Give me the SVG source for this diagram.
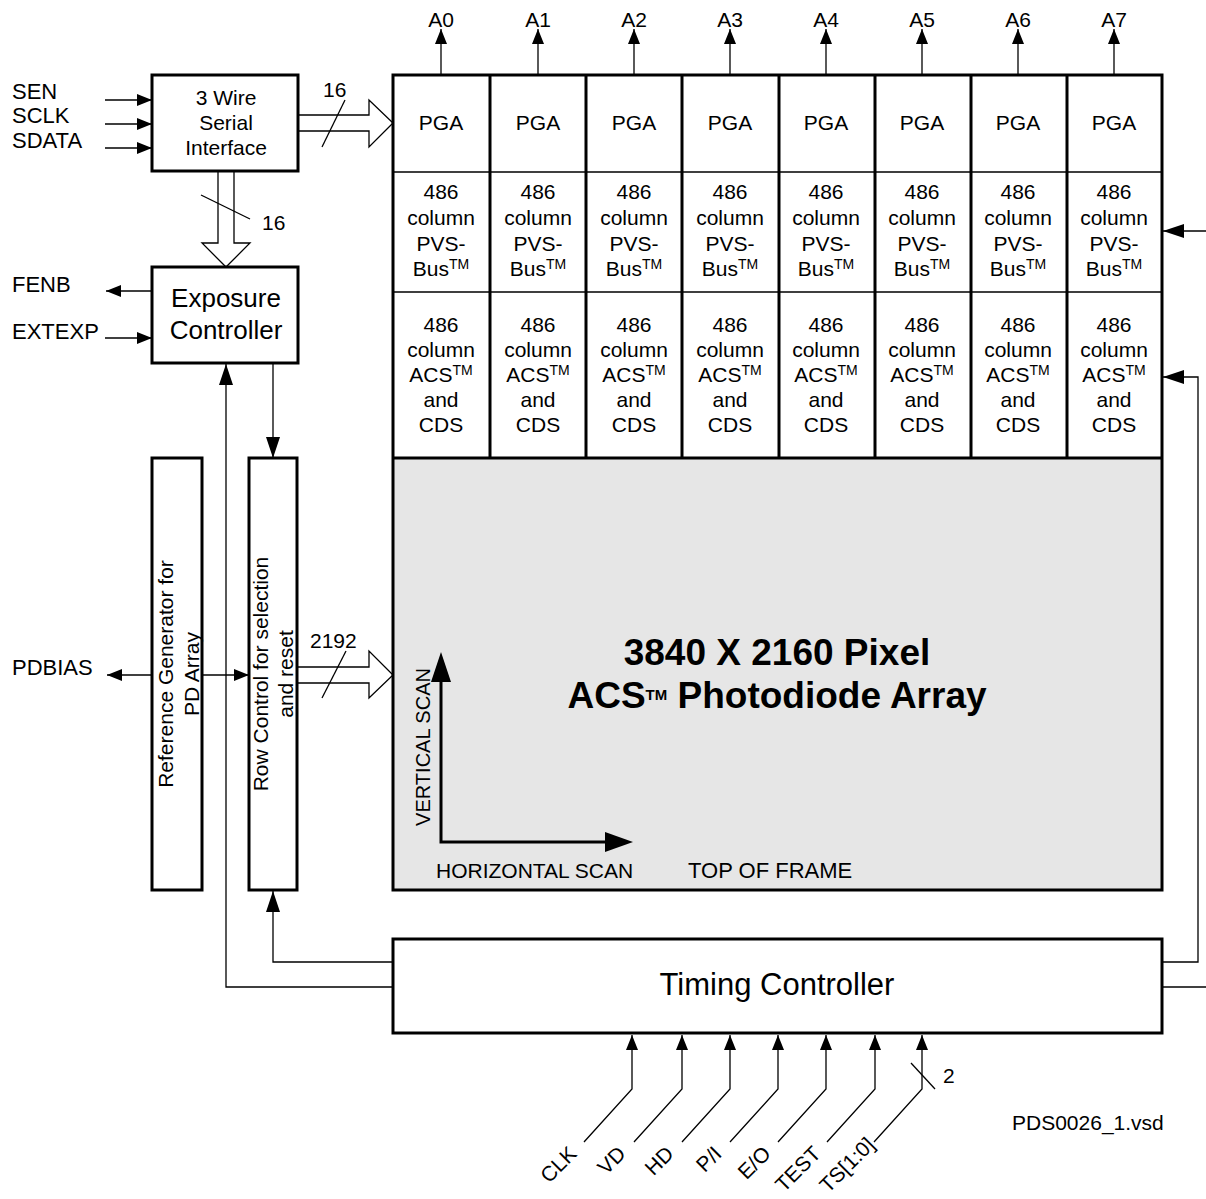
<svg xmlns="http://www.w3.org/2000/svg" width="1206" height="1199" viewBox="0 0 1206 1199">
<style>
text{font-family:"Liberation Sans",Arial,sans-serif;fill:#000}
.box{fill:#fff;stroke:#000;stroke-width:3}
.thk{fill:none;stroke:#000;stroke-width:3}
.ln{fill:none;stroke:#000;stroke-width:1.3}
.bus{fill:#fff;stroke:#000;stroke-width:1.3}
.s21{font-size:21px}
.s22{font-size:22px}
.c{text-anchor:middle}
.a{marker-end:url(#ah)}
.aL{marker-end:url(#ahL)}
</style>
<defs>
<marker id="ah" markerWidth="15" markerHeight="12" refX="15" refY="6" orient="auto" markerUnits="userSpaceOnUse"><path d="M0,0 L15,6 L0,12 z" fill="#000"/></marker>
<marker id="ahL" markerWidth="21" markerHeight="14" refX="21" refY="7" orient="auto" markerUnits="userSpaceOnUse"><path d="M0,0 L21,7 L0,14 z" fill="#000"/></marker>
</defs>

<g id="connectors">
  <path class="ln a" d="M105,100 H152"/>
  <path class="ln a" d="M105,124 H152"/>
  <path class="ln a" d="M105,148 H152"/>
  <path class="ln a" d="M152,291 H106"/>
  <path class="ln a" d="M105,338 H152"/>
  <path class="ln a" d="M152,675 H107"/>
  <path class="ln a" d="M202,675 H249"/>
  <path class="ln aL" d="M273,364 V458"/>
  <path class="ln aL" d="M393,987 H226 V364"/>
  <path class="ln aL" d="M393,962 H273 V891"/>
  <path class="ln aL" d="M1206,231 H1163"/>
  <path class="ln aL" d="M1162,962 H1198 V377 H1163"/>
  <path class="ln" d="M1162,987 H1206"/>
  <path class="ln a" d="M441,75 V29"/>
  <path class="ln a" d="M538,75 V29"/>
  <path class="ln a" d="M634,75 V29"/>
  <path class="ln a" d="M730,75 V29"/>
  <path class="ln a" d="M826,75 V29"/>
  <path class="ln a" d="M922,75 V29"/>
  <path class="ln a" d="M1018,75 V29"/>
  <path class="ln a" d="M1114,75 V29"/>
  <path class="bus" d="M298,115 H369 V100 L393,123 L369,147 V131 H298"/>
  <path class="ln" d="M322,147 L345,100"/>
  <text class="s21" x="323" y="97">16</text>
  <path class="bus" d="M218,172 V243 H202 L226,267 L250,243 H234 V172"/>
  <path class="ln" d="M201,195 L250,219"/>
  <text class="s21" x="262" y="230">16</text>
  <path class="bus" d="M298,667 H369 V651 L393,675 L369,698 V683 H298"/>
  <path class="ln" d="M322,698 L346,651"/>
  <text class="s21" x="310" y="648">2192</text>
  <path class="ln a" d="M584,1142 L632,1089 V1035"/>
  <path class="ln a" d="M634,1142 L682,1089 V1035"/>
  <path class="ln a" d="M682,1142 L730,1089 V1035"/>
  <path class="ln a" d="M730,1142 L778,1089 V1035"/>
  <path class="ln a" d="M778,1142 L826,1089 V1035"/>
  <path class="ln a" d="M827,1142 L875,1089 V1035"/>
  <path class="ln a" d="M874,1142 L922,1089 V1035"/>
  <path class="ln" d="M911,1063 L935,1089"/>
  <text class="s21" x="943" y="1083">2</text>
</g>

<g id="labels">
  <text class="s22" x="12" y="99">SEN</text>
  <text class="s22" x="12" y="123">SCLK</text>
  <text class="s22" x="12" y="148">SDATA</text>
  <text class="s22" x="12" y="292">FENB</text>
  <text class="s22" x="12" y="339">EXTEXP</text>
  <text class="s22" x="12" y="675">PDBIAS</text>
  <text class="s21 c" x="441" y="27">A0</text>
  <text class="s21 c" x="538" y="27">A1</text>
  <text class="s21 c" x="634" y="27">A2</text>
  <text class="s21 c" x="730" y="27">A3</text>
  <text class="s21 c" x="826" y="27">A4</text>
  <text class="s21 c" x="922" y="27">A5</text>
  <text class="s21 c" x="1018" y="27">A6</text>
  <text class="s21 c" x="1114" y="27">A7</text>
  <g class="s21" text-anchor="end">
    <text transform="translate(578,1155) rotate(-45)">CLK</text>
    <text transform="translate(627,1155) rotate(-45)">VD</text>
    <text transform="translate(675,1155) rotate(-45)">HD</text>
    <text transform="translate(723,1155) rotate(-45)">P/I</text>
    <text transform="translate(772,1155) rotate(-45)">E/O</text>
    <text transform="translate(822,1155) rotate(-45)">TEST</text>
    <text transform="translate(876,1146) rotate(-45)">TS[1:0]</text>
  </g>
  <text class="s21" x="1012" y="1130">PDS0026_1.vsd</text>
</g>

<g id="serial-interface">
  <rect class="box" x="152" y="75" width="146" height="96"/>
  <text class="s21 c" x="226" y="105">3 Wire</text>
  <text class="s21 c" x="226" y="130">Serial</text>
  <text class="s21 c" x="226" y="155">Interface</text>
</g>

<g id="exposure-controller">
  <rect class="box" x="152" y="267" width="146" height="96"/>
  <text class="c" font-size="26" x="226" y="307">Exposure</text>
  <text class="c" font-size="26" x="226" y="339">Controller</text>
</g>

<g id="reference-generator">
  <rect class="box" x="152" y="458" width="50" height="432"/>
  <text class="s21 c" transform="translate(173,674) rotate(-90)">Reference Generator for</text>
  <text class="s21 c" transform="translate(199,674) rotate(-90)">PD Array</text>
</g>

<g id="row-control">
  <rect class="box" x="249" y="458" width="48" height="432"/>
  <text class="s21 c" transform="translate(268,674) rotate(-90)">Row Control for selection</text>
  <text class="s21 c" transform="translate(293,674) rotate(-90)">and reset</text>
</g>

<g id="pixel-array">
  <rect x="393" y="458" width="769" height="432" fill="#e6e6e6"/>
  <text class="c" font-size="37" font-weight="bold" x="777" y="665">3840 X 2160 Pixel</text>
  <text class="c" font-size="37" font-weight="bold" x="777" y="708">ACS<tspan font-size="15" dy="-8">TM</tspan><tspan dy="8"> Photodiode Array</tspan></text>
  <path class="thk" d="M441,682 V842 H605"/>
  <polygon points="441,652 431,682 451,682" fill="#000"/>
  <polygon points="633,842 605,832 605,852" fill="#000"/>
  <text font-size="20" class="c" transform="translate(430,747) rotate(-90)">VERTICAL SCAN</text>
  <text font-size="21" x="436" y="878">HORIZONTAL SCAN</text>
  <text font-size="22" x="688" y="878">TOP OF FRAME</text>
</g>

<g id="column-blocks">
  <path class="ln" d="M393,172 H1162 M393,292 H1162"/>
  <path class="thk" d="M490,75 V458 M586,75 V458 M682,75 V458 M779,75 V458 M875,75 V458 M971,75 V458 M1067,75 V458 M393,458 H1162"/>
  <g class="s21 c">
    <text x="441" y="130">PGA</text><text x="538" y="130">PGA</text><text x="634" y="130">PGA</text><text x="730" y="130">PGA</text>
    <text x="826" y="130">PGA</text><text x="922" y="130">PGA</text><text x="1018" y="130">PGA</text><text x="1114" y="130">PGA</text>
  </g>
  <g class="s21 c" id="pvs-bus">
    <text x="441" y="199">486</text><text x="441" y="225">column</text><text x="441" y="251">PVS-</text><text x="441" y="276">Bus<tspan font-size="14" dy="-7">TM</tspan></text>
    <text x="538" y="199">486</text><text x="538" y="225">column</text><text x="538" y="251">PVS-</text><text x="538" y="276">Bus<tspan font-size="14" dy="-7">TM</tspan></text>
    <text x="634" y="199">486</text><text x="634" y="225">column</text><text x="634" y="251">PVS-</text><text x="634" y="276">Bus<tspan font-size="14" dy="-7">TM</tspan></text>
    <text x="730" y="199">486</text><text x="730" y="225">column</text><text x="730" y="251">PVS-</text><text x="730" y="276">Bus<tspan font-size="14" dy="-7">TM</tspan></text>
    <text x="826" y="199">486</text><text x="826" y="225">column</text><text x="826" y="251">PVS-</text><text x="826" y="276">Bus<tspan font-size="14" dy="-7">TM</tspan></text>
    <text x="922" y="199">486</text><text x="922" y="225">column</text><text x="922" y="251">PVS-</text><text x="922" y="276">Bus<tspan font-size="14" dy="-7">TM</tspan></text>
    <text x="1018" y="199">486</text><text x="1018" y="225">column</text><text x="1018" y="251">PVS-</text><text x="1018" y="276">Bus<tspan font-size="14" dy="-7">TM</tspan></text>
    <text x="1114" y="199">486</text><text x="1114" y="225">column</text><text x="1114" y="251">PVS-</text><text x="1114" y="276">Bus<tspan font-size="14" dy="-7">TM</tspan></text>
  </g>
  <g class="s21 c" id="acs-cds">
    <text x="441" y="332">486</text><text x="441" y="357">column</text><text x="441" y="382">ACS<tspan font-size="14" dy="-7">TM</tspan></text><text x="441" y="407">and</text><text x="441" y="432">CDS</text>
    <text x="538" y="332">486</text><text x="538" y="357">column</text><text x="538" y="382">ACS<tspan font-size="14" dy="-7">TM</tspan></text><text x="538" y="407">and</text><text x="538" y="432">CDS</text>
    <text x="634" y="332">486</text><text x="634" y="357">column</text><text x="634" y="382">ACS<tspan font-size="14" dy="-7">TM</tspan></text><text x="634" y="407">and</text><text x="634" y="432">CDS</text>
    <text x="730" y="332">486</text><text x="730" y="357">column</text><text x="730" y="382">ACS<tspan font-size="14" dy="-7">TM</tspan></text><text x="730" y="407">and</text><text x="730" y="432">CDS</text>
    <text x="826" y="332">486</text><text x="826" y="357">column</text><text x="826" y="382">ACS<tspan font-size="14" dy="-7">TM</tspan></text><text x="826" y="407">and</text><text x="826" y="432">CDS</text>
    <text x="922" y="332">486</text><text x="922" y="357">column</text><text x="922" y="382">ACS<tspan font-size="14" dy="-7">TM</tspan></text><text x="922" y="407">and</text><text x="922" y="432">CDS</text>
    <text x="1018" y="332">486</text><text x="1018" y="357">column</text><text x="1018" y="382">ACS<tspan font-size="14" dy="-7">TM</tspan></text><text x="1018" y="407">and</text><text x="1018" y="432">CDS</text>
    <text x="1114" y="332">486</text><text x="1114" y="357">column</text><text x="1114" y="382">ACS<tspan font-size="14" dy="-7">TM</tspan></text><text x="1114" y="407">and</text><text x="1114" y="432">CDS</text>
  </g>
  <rect class="thk" x="393" y="75" width="769" height="815"/>
</g>

<g id="timing-controller">
  <rect class="box" x="393" y="939" width="769" height="94"/>
  <text class="c" font-size="31" x="777" y="995">Timing Controller</text>
</g>
</svg>
